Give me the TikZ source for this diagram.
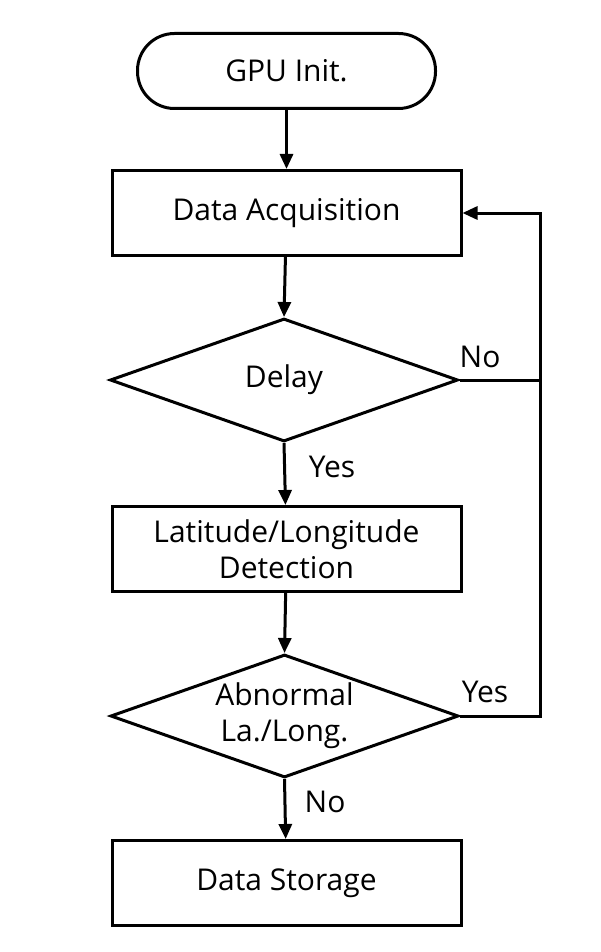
\documentclass[tikz,border=0pt]{standalone}
\usepackage{fontspec}
\setmainfont{Open Sans}
\usetikzlibrary{shapes.geometric,arrows.meta}
\begin{document}
\begin{tikzpicture}[x=1pt,y=-1pt,
  txt/.style={font=\fontsize{30}{36}\selectfont},
  box/.style={txt, draw, line width=3pt, minimum width=349pt, minimum height=85pt, inner sep=0pt, align=center},
  dec/.style={txt, draw, diamond, line width=3pt, aspect=2.82, minimum width=348pt, minimum height=123pt, inner sep=0pt, align=center},
  term/.style={txt, draw, line width=3pt, rounded corners=37pt, minimum width=298pt, minimum height=75pt, inner sep=0pt},
  arr/.style={line width=3pt, -{Triangle[length=15pt,width=13pt]}},
  ln/.style={line width=3pt},
  lbl/.style={txt, inner sep=0pt}
]
\path[use as bounding box, fill=white] (0,0) rectangle (600,952);
\node[term] (init) at (286.5,71) {GPU Init.};
\node[box] (acq) at (286.5,213) {Data Acquisition};
\node[dec] (delay) at (284,380) {Delay};
\node[box] (lat) at (286.5,549) {Latitude/Longitude\\Detection};
\node[dec] (abn) at (284.5,716) {Abnormal\\La./Long.};
\node[box] (sto) at (286.5,883) {Data Storage};
\coordinate (c1) at (540,380);
\coordinate (c2) at (540,716);

\draw[arr] (init) -- (acq);
\draw[arr] (acq) -- (delay.north);
\draw[arr] (delay.south) -- (lat);
\draw[arr] (lat) -- (abn.north);
\draw[arr] (abn.south) -- (sto);
\draw[ln] (delay.east) -- (c1);
\draw[ln] (abn.east) -- (c2) -- (c1);
\draw[arr] (c1) |- (acq.east);

\node[lbl] (no1) at (480,357) {No};
\node[lbl] (yes1) at (332,467) {Yes};
\node[lbl] (yes2) at (485,692) {Yes};
\node[lbl] (no2) at (325,802) {No};
\end{tikzpicture}
\end{document}
